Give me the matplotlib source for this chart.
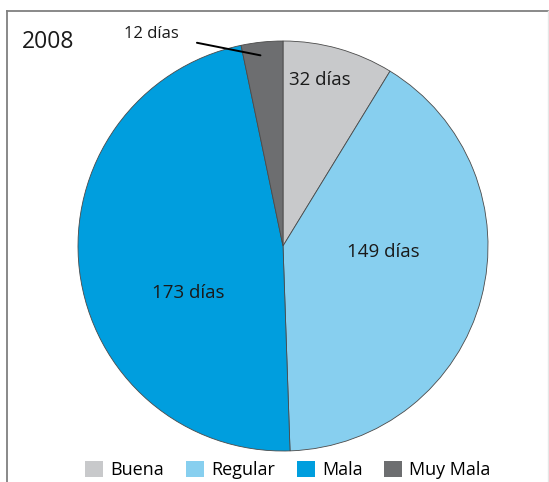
import matplotlib
matplotlib.use("Agg")
import matplotlib.pyplot as plt
from matplotlib.lines import Line2D
from matplotlib.patches import Patch

categories = ["Buena", "Regular", "Mala", "Muy Mala"]
days = [32, 149, 173, 12]
labels = ["32 días", "149 días", "173 días", "12 días"]
colors = ["#c8c9cb", "#87cfef", "#009ede", "#6d6e70"]
year = "2008"

plt.rcParams['font.family'] = ['Open Sans', 'DejaVu Sans']

W, H = 549, 482
fig = plt.figure(figsize=(W / 100, H / 100), dpi=100)
cx, cy, r = 283, 246, 205
ax = fig.add_axes([(cx - r) / W, (H - cy - r) / H, 2 * r / W, 2 * r / H])
ax.pie(days, colors=colors, startangle=90, counterclock=False, radius=1,
       wedgeprops=dict(edgecolor="#4a4a4a", linewidth=0.6))
ax.set_xlim(-1, 1)
ax.set_ylim(-1, 1)
ax.set_aspect("equal")
ax.axis("off")

# in-slice labels
pos = [(0.18, 0.81), (0.49, -0.03), (-0.46, -0.23)]
for (x, y), t in zip(pos, labels[:3]):
    ax.text(x, y, t, ha="center", va="center", fontsize=13.5, color="#1a1a1a")

# outside label for Muy Mala
ax.annotate(labels[3], xy=(-0.11, 0.93), xytext=(-0.64, 1.035),
            ha="center", va="center", fontsize=12, color="#1a1a1a",
            annotation_clip=False,
            arrowprops=dict(arrowstyle="-", color="black", lw=1.4,
                            shrinkA=11, shrinkB=0))

fig.text(22 / W, 1 - 42 / H, year, ha="left", va="center", fontsize=16.5, color="#1a1a1a")

handles = [Patch(facecolor=c, edgecolor="none") for c in colors]
fig.legend(handles, categories, loc="center", bbox_to_anchor=(288 / W, 12 / H),
           ncol=4, frameon=False, fontsize=13, handlelength=1.0, handleheight=1.0,
           handletextpad=0.4, columnspacing=1.2)

# frame lines
fig.add_artist(Line2D([7 / W, 7 / W], [0, 1 - 11 / H], color="#808080", lw=1.3))
fig.add_artist(Line2D([7 / W, 548 / W], [1 - 11 / H, 1 - 11 / H], color="#808080", lw=1.3))
fig.add_artist(Line2D([548 / W, 548 / W], [0, 1 - 11 / H], color="#e6e6e6", lw=1.0))

fig.savefig("out.png", dpi=100)
